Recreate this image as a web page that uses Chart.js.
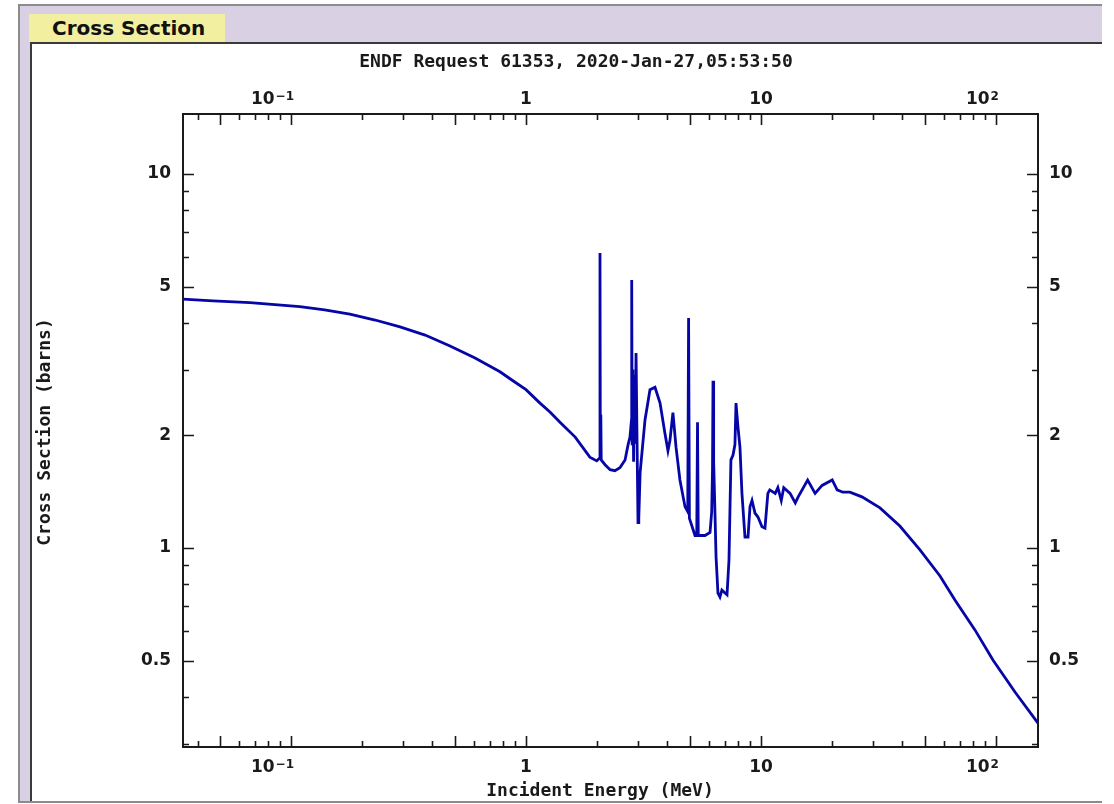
<!DOCTYPE html>
<html>
<head>
<meta charset="utf-8">
<title>Cross Section</title>
<script src="https://cdn.jsdelivr.net/npm/chart.js@4.4.1/dist/chart.umd.min.js"></script>
<style>
  html, body { margin: 0; padding: 0; background: #fff; width: 1114px; height: 804px; overflow: hidden; }
  .outer {
    position: absolute; left: 18px; top: 4px; width: 1084px; height: 799px;
    box-sizing: border-box; background: #d9d1e3;
    border-top: 2px solid #8c8c8c; border-left: 2px solid #8c8c8c; border-bottom: 2px solid #8c8c8c;
  }
  .tab {
    position: absolute; left: 29px; top: 14px; width: 196px; height: 28px;
    background: #f2f0a0; box-sizing: border-box; padding-left: 23px;
    font: bold 20px "DejaVu Sans", sans-serif; line-height: 28px; color: #111;
  }
  .panel {
    position: absolute; left: 30px; top: 42px; width: 1072px; height: 759px;
    box-sizing: border-box; background: #fff;
    border-top: 2px solid #3a3a3a; border-left: 2px solid #3a3a3a;
  }
  #wrap { position: absolute; left: 0; top: 0; width: 1114px; height: 804px; }
</style>
</head>
<body>
<div class="outer"></div>
<div class="panel"></div>
<div class="tab">Cross Section</div>
<div id="wrap"><canvas id="xs-chart"></canvas></div>
<script>
// incident energy (MeV) and cross section (barns)
const energy = [
  0.0347, 0.041, 0.0466, 0.0669, 0.109, 0.139, 0.178, 0.228, 0.291, 0.372, 0.475, 0.607, 0.775, 0.88,
  1.0, 1.147, 1.265, 1.395, 1.62, 1.87, 2.0,
  2.055, 2.065, 2.072, 2.082, 2.09, 2.17, 2.28, 2.39, 2.51, 2.64, 2.72, 2.77,
  2.812, 2.818, 2.83, 2.85, 2.87, 2.89, 2.92, 2.94, 2.97, 2.997, 3.02, 3.06,
  3.21, 3.37, 3.54, 3.72, 3.90, 4.02, 4.10, 4.22, 4.35, 4.52, 4.75,
  4.88, 4.92, 4.96, 5.24, 5.33, 5.37, 5.41, 5.78, 6.07, 6.17, 6.22, 6.25, 6.29, 6.36,
  6.44, 6.56, 6.69, 6.82, 7.03, 7.17, 7.31, 7.45, 7.60, 7.75, 7.83, 7.98, 8.14, 8.30,
  8.55, 8.81, 8.98, 9.16, 9.43, 9.71, 10.1, 10.4, 10.7, 10.9, 11.5, 11.8, 12.2, 12.5,
  13.3, 14.0, 14.4, 15.8, 17.0, 18.2, 20.1, 21.1, 22.3, 23.9, 26.9, 32.1, 39.0, 47.5,
  57.8, 66.9, 81.4, 97.1, 120.5, 151
];
const sigma = [
  4.63, 4.60, 4.58, 4.53, 4.42, 4.33, 4.22, 4.07, 3.90, 3.71, 3.47, 3.22, 2.96, 2.80,
  2.65, 2.44, 2.31, 2.17, 1.98, 1.75, 1.71,
  1.74, 6.15, 1.76, 2.27, 1.72, 1.67, 1.62, 1.61, 1.64, 1.72, 1.89, 1.98,
  2.2, 5.21, 1.9, 3.0, 1.7, 2.9, 1.9, 3.32, 1.9, 1.17, 1.2, 1.59,
  2.20, 2.65, 2.69, 2.44, 2.03, 1.82, 1.94, 2.30, 1.86, 1.52, 1.29,
  1.25, 4.12, 1.2, 1.08, 1.08, 2.17, 1.08, 1.08, 1.10, 1.25, 1.62, 2.80, 1.7, 1.3,
  0.946, 0.758, 0.740, 0.772, 0.758, 0.75, 0.929, 1.72, 1.77, 1.89, 2.44, 2.11, 1.86, 1.40,
  1.07, 1.07, 1.29, 1.34, 1.24, 1.21, 1.14, 1.13, 1.40, 1.43, 1.40, 1.45, 1.34, 1.45,
  1.40, 1.32, 1.37, 1.52, 1.40, 1.47, 1.52, 1.43, 1.41, 1.41, 1.37, 1.28, 1.145, 0.988,
  0.842, 0.726, 0.604, 0.502, 0.412, 0.340
];

// axis ranges and tick marks
const xRange = [0.0347, 151];
const yRange = [0.2937, 14.47];
const xLongTicks = [0.05, 0.1, 0.5, 1, 5, 10, 50, 100];
const xShortTicks = [0.04, 0.06, 0.07, 0.08, 0.09, 0.2, 0.3, 0.4, 0.6, 0.7, 0.8, 0.9,
  2, 3, 4, 6, 7, 8, 9, 20, 30, 40, 60, 70, 80, 90];
const yLongTicks = [0.5, 1, 2, 5, 10];
const yShortTicks = [0.3, 0.4, 0.6, 0.7, 0.8, 0.9, 3, 4, 6, 7, 8, 9];
const xLabelValues = [0.1, 1, 10, 100];
const xLabelBase = ["10", "1", "10", "10"];
const xLabelExp = ["\u22121", "", "", "2"];
const yLabelValues = [0.5, 1, 2, 5, 10];
const yLabelText = ["0.5", "1", "2", "5", "10"];

const chartTitle = "ENDF Request 61353, 2020-Jan-27,05:53:50";
const xTitle = "Incident Energy (MeV)";
const yTitle = "Cross Section (barns)";

const INK = "#1a1a1a";
const LABEL_FONT = "bold 17px 'DejaVu Sans', sans-serif";
const EXP_FONT = "bold 12px 'DejaVu Sans', sans-serif";
const MONO_FONT = "bold 18px 'DejaVu Sans Mono', monospace";

function drawLabel(ctx, base, exp, x, y) {
  // decade labels with a superscript sit right-aligned at the tick, plain ones centred
  ctx.textBaseline = "middle";
  if (!exp) {
    ctx.font = LABEL_FONT;
    ctx.textAlign = "center";
    ctx.fillText(base, x, y);
    return;
  }
  ctx.font = EXP_FONT;
  const we = ctx.measureText(exp).width;
  ctx.textAlign = "right";
  ctx.fillText(exp, x + 3, y - 3);
  ctx.font = LABEL_FONT;
  ctx.fillText(base, x + 3 - we - 1, y);
}

const framePlugin = {
  id: "frame",
  afterDraw(chart) {
    const { ctx, chartArea: a, scales } = chart;
    const sx = scales.x, sy = scales.y;
    ctx.save();
    ctx.strokeStyle = INK;
    ctx.fillStyle = INK;
    ctx.lineWidth = 2;
    ctx.strokeRect(a.left, a.top, a.right - a.left, a.bottom - a.top);

    const xtick = (vals, len) => {
      ctx.beginPath();
      vals.forEach((v) => {
        const px = Math.round(sx.getPixelForValue(v)) + 0.5;
        ctx.moveTo(px, a.bottom); ctx.lineTo(px, a.bottom - len);
        ctx.moveTo(px, a.top); ctx.lineTo(px, a.top + len);
      });
      ctx.stroke();
    };
    const ytick = (vals, len) => {
      ctx.beginPath();
      vals.forEach((v) => {
        const py = Math.round(sy.getPixelForValue(v)) + 0.5;
        ctx.moveTo(a.left, py); ctx.lineTo(a.left + len, py);
        ctx.moveTo(a.right, py); ctx.lineTo(a.right - len, py);
      });
      ctx.stroke();
    };
    ctx.lineWidth = 1.6;
    xtick(xLongTicks, 11);
    xtick(xShortTicks, 6);
    ytick(yLongTicks, 11);
    ytick(yShortTicks, 6);

    xLabelValues.forEach((v, i) => {
      const px = sx.getPixelForValue(v);
      drawLabel(ctx, xLabelBase[i], xLabelExp[i], px, a.bottom + 21);
      drawLabel(ctx, xLabelBase[i], xLabelExp[i], px, a.top - 14);
    });

    ctx.font = LABEL_FONT;
    ctx.textBaseline = "middle";
    yLabelValues.forEach((v, i) => {
      const py = sy.getPixelForValue(v);
      ctx.textAlign = "right";
      ctx.fillText(yLabelText[i], a.left - 12, py);
      ctx.textAlign = "left";
      ctx.fillText(yLabelText[i], a.right + 11, py);
    });

    ctx.font = MONO_FONT;
    ctx.textAlign = "center";
    ctx.fillText(chartTitle, 576, 62);
    ctx.fillText(xTitle, 600, 791);
    ctx.translate(45, 432);
    ctx.rotate(-Math.PI / 2);
    ctx.fillText(yTitle, 0, 0);
    ctx.restore();
  }
};

new Chart(document.getElementById("xs-chart"), {
  type: "line",
  data: {
    datasets: [{
      data: energy.map((e, i) => ({ x: e, y: sigma[i] })),
      borderColor: "#0606a8",
      borderWidth: 2.8,
      pointRadius: 0,
      tension: 0,
      fill: false,
    }],
  },
  options: {
    responsive: true,
    maintainAspectRatio: false,
    animation: false,
    devicePixelRatio: 1,
    layout: { padding: { left: 183, top: 114, right: 76, bottom: 57 } },
    plugins: { legend: { display: false }, tooltip: { enabled: false } },
    scales: {
      x: { type: "logarithmic", min: xRange[0], max: xRange[1], display: false },
      y: { type: "logarithmic", min: yRange[0], max: yRange[1], display: false },
    },
  },
  plugins: [framePlugin],
});
</script>
</body>
</html>
